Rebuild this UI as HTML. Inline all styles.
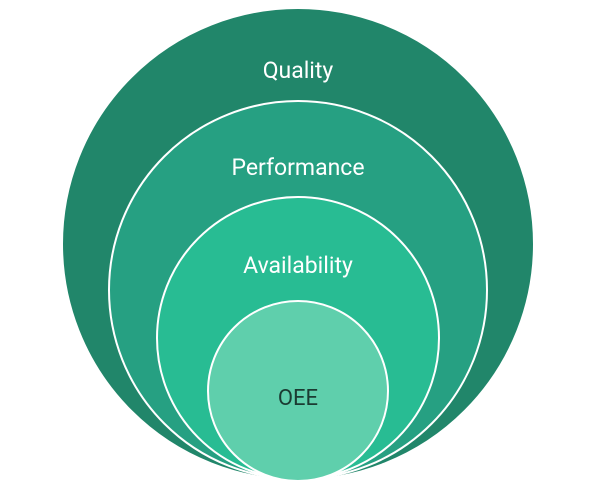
<!DOCTYPE html>
<html><head><style>html,body{margin:0;padding:0;background:#fff;}svg{display:block;}</style></head>
<body>
<svg width="600" height="500" viewBox="0 0 600 500" xmlns="http://www.w3.org/2000/svg" font-family="Roboto, 'Liberation Sans', sans-serif">
<circle cx="298" cy="244" r="236" fill="#21866a" stroke="#fff" stroke-width="2"/>
<circle cx="298" cy="290" r="189" fill="#26a082" stroke="#fff" stroke-width="2"/>
<circle cx="298" cy="338" r="141" fill="#28bc93" stroke="#fff" stroke-width="2"/>
<circle cx="298" cy="391" r="90" fill="#5fcfac" stroke="#fff" stroke-width="2"/>
<text x="298" y="78" text-anchor="middle" font-size="23" fill="#fff">Quality</text>
<text x="298" y="175" text-anchor="middle" font-size="23" fill="#fff">Performance</text>
<text x="298" y="273" text-anchor="middle" font-size="23" fill="#fff">Availability</text>
<text x="298" y="405" text-anchor="middle" font-size="22" fill="#1b3b32">OEE</text>
</svg>
</body></html>
